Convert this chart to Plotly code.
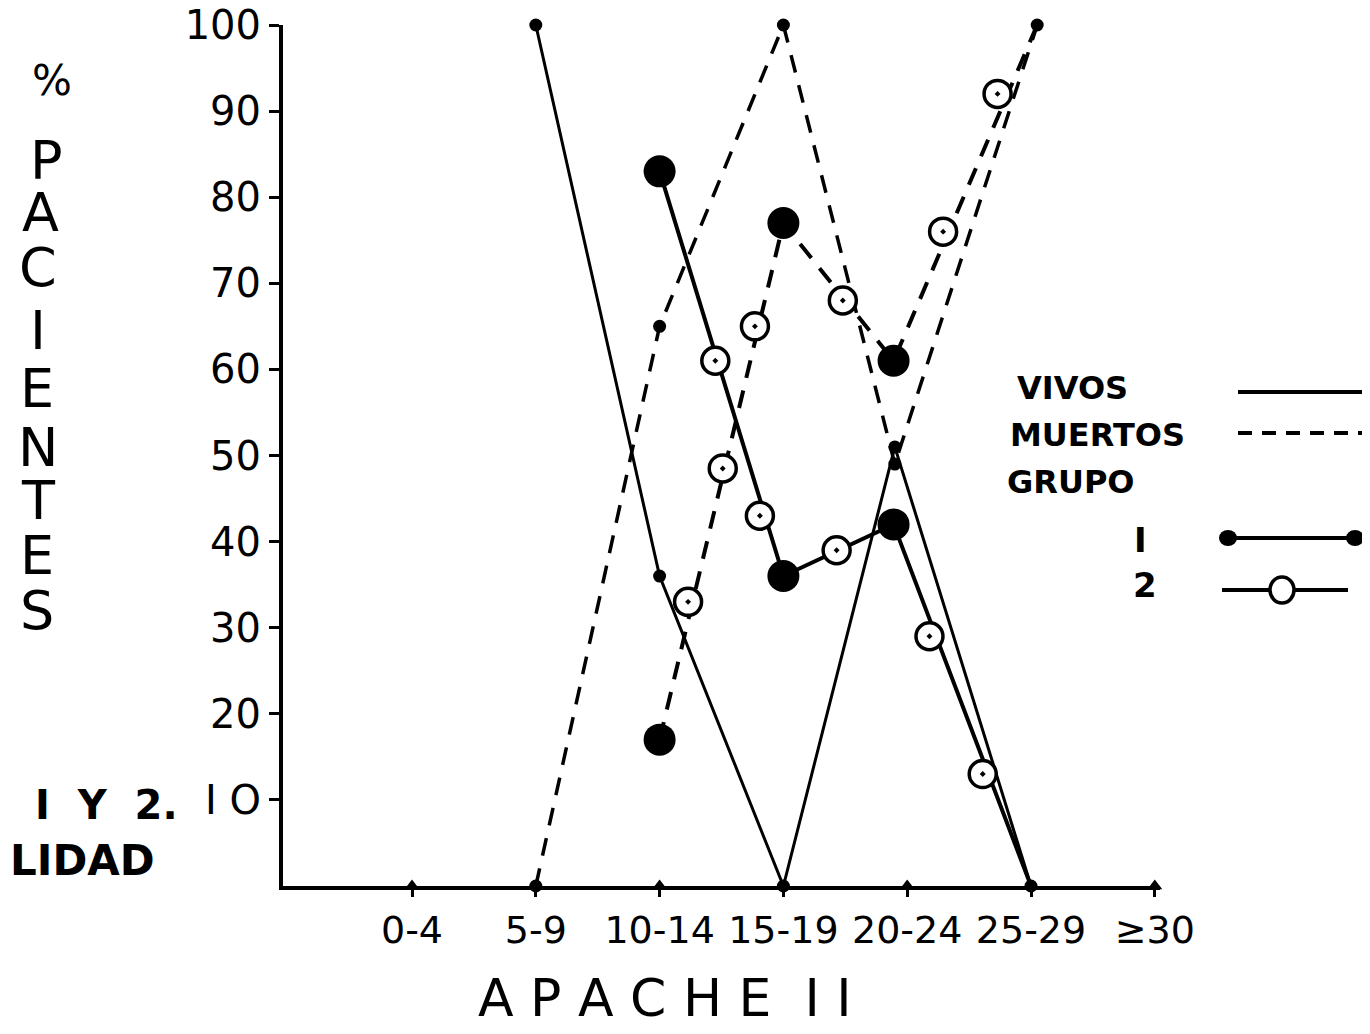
import plotly.graph_objects as go

# ---------------- data ----------------
categories = ["0-4", "5-9", "10-14", "15-19", "20-24", "25-29", "≥30"]
cat_pos = [0, 1, 2, 3, 4, 5, 6]

# Grupo 1 (small filled dots)
g1_vivos_x = [1, 2, 3, 3.9, 5]
g1_vivos_y = [100, 36, 0, 51, 0]
g1_muertos_x = [1, 2, 3, 3.9, 5.05]
g1_muertos_y = [0, 65, 100, 49, 100]

# Grupo 2 (large dots at vertices, open circles along the line)
g2_vivos_x = [2, 3, 3.89, 5]
g2_vivos_y = [83, 36, 42, 0]
g2_muertos_x = [2, 3, 3.89, 5.05]
g2_muertos_y = [17, 77, 61, 100]

g2_vivos_open_x = [2.45, 2.81, 3.43, 4.18, 4.61]
g2_vivos_open_y = [61, 43, 39, 29, 13]
g2_muertos_open_x = [2.23, 2.51, 2.77, 3.48, 4.29, 4.73]
g2_muertos_open_y = [33, 48.5, 65, 68, 76, 92]

axis_marks = [0, 0, 0, 0, 0, 0, 0]

y_ticks = [10, 20, 30, 40, 50, 60, 70, 80, 90, 100]
y_ticklabels = ["I O", "20", "30", "40", "50", "60", "70", "80", "90", "100"]

ylabel_letters = ["%", "P", "A", "C", "I", "E", "N", "T", "E", "S"]

# ---------------- geometry helpers ----------------
# page body has an 8px margin; work in reference-pixel coordinates
OFF = 8
W, H = 1370 - OFF, 1034 - OFF
L, R, T, B = 283, 1160, 25, 886   # plot area in reference pixels


def px2x(px):
    return (px - L) / (R - L)


def py2y(py):
    return (B - py) / (B - T)


FONT = "DejaVu Sans"
BLACK = "#000000"
dash_pat = "18px,13px"

fig = go.Figure()

# baseline bumps on x axis
fig.add_trace(go.Scatter(x=cat_pos, y=axis_marks, mode="markers",
                         marker=dict(symbol="triangle-up", size=13, color=BLACK),
                         cliponaxis=False, showlegend=False, hoverinfo="skip"))

# grupo 1 lines
fig.add_trace(go.Scatter(x=g1_vivos_x, y=g1_vivos_y, mode="lines+markers",
                         line=dict(color=BLACK, width=3),
                         marker=dict(size=13, color=BLACK),
                         cliponaxis=False, showlegend=False))
fig.add_trace(go.Scatter(x=g1_muertos_x, y=g1_muertos_y, mode="lines+markers",
                         line=dict(color=BLACK, width=3.5, dash=dash_pat),
                         marker=dict(size=13, color=BLACK),
                         cliponaxis=False, showlegend=False))

# grupo 2 lines
fig.add_trace(go.Scatter(x=g2_vivos_x, y=g2_vivos_y, mode="lines",
                         line=dict(color=BLACK, width=4),
                         cliponaxis=False, showlegend=False))
fig.add_trace(go.Scatter(x=g2_muertos_x, y=g2_muertos_y, mode="lines",
                         line=dict(color=BLACK, width=4, dash=dash_pat),
                         cliponaxis=False, showlegend=False))
# big dots at vertices (final points have no big dot)
fig.add_trace(go.Scatter(x=g2_vivos_x[:3] + g2_muertos_x[:3],
                         y=g2_vivos_y[:3] + g2_muertos_y[:3], mode="markers",
                         marker=dict(size=32, color=BLACK),
                         cliponaxis=False, showlegend=False))
# open circles with dot
ox = g2_vivos_open_x + g2_muertos_open_x
oy = g2_vivos_open_y + g2_muertos_open_y
fig.add_trace(go.Scatter(x=ox, y=oy, mode="markers",
                         marker=dict(size=27, color="white"),
                         cliponaxis=False, showlegend=False, hoverinfo="skip"))
fig.add_trace(go.Scatter(x=ox, y=oy, mode="markers",
                         marker=dict(symbol="circle-open-dot", size=27, color=BLACK,
                                     line=dict(width=3.5, color=BLACK)),
                         cliponaxis=False, showlegend=False))

# ---------------- layout ----------------
fig.update_layout(
    template="none",
    width=W, height=H,
    margin=dict(l=L - OFF, r=1370 - R, t=T - OFF, b=1034 - B, pad=0, autoexpand=False),
    paper_bgcolor="white", plot_bgcolor="white",
    showlegend=False,
    font=dict(family=FONT, color=BLACK),
    xaxis=dict(range=[-1.042, 6.042], tickmode="array",
               tickvals=cat_pos, ticktext=categories, automargin=False,
               ticklabeloverflow="allow",
               showline=True, linecolor=BLACK, linewidth=4,
               ticks="outside", ticklen=7, tickwidth=3, tickcolor=BLACK,
               tickfont=dict(size=38, family=FONT, color=BLACK),
               showgrid=False, zeroline=False),
    yaxis=dict(range=[0, 100], tickmode="array", tickvals=y_ticks,
               ticktext=y_ticklabels, automargin=False,
               ticklabeloverflow="allow",
               showline=True, linecolor=BLACK, linewidth=4,
               ticks="outside", ticklen=10, tickwidth=3, tickcolor=BLACK,
               tickfont=dict(size=40, family=FONT, color=BLACK),
               showgrid=False, zeroline=False),
)

annotations = []
# vertical y label, letter by letter
letter_y = [80, 160, 213, 267, 330, 388, 447, 500, 555, 610]
letter_x = [52, 47, 40, 38, 38, 37, 38, 38, 37, 37]
letter_size = [42, 54, 54, 54, 54, 54, 54, 54, 54, 54]
for ch, lx, ly, sz in zip(ylabel_letters, letter_x, letter_y, letter_size):
    annotations.append(dict(text=ch, xref="paper", yref="paper",
                            x=px2x(lx), y=py2y(ly), xanchor="center", yanchor="middle",
                            showarrow=False, font=dict(size=sz, family=FONT, color=BLACK)))

# fragments at left
annotations.append(dict(text="<b>I  Y  2.</b>", xref="paper", yref="paper",
                        x=px2x(180), y=py2y(805), xanchor="right", yanchor="middle",
                        showarrow=False, font=dict(size=40, family=FONT, color=BLACK)))
annotations.append(dict(text="<b>LIDAD</b>", xref="paper", yref="paper",
                        x=px2x(OFF), y=py2y(860), xanchor="left", yanchor="middle",
                        showarrow=False, font=dict(size=42, family=FONT, color=BLACK)))

# x axis title
annotations.append(dict(text="A P A C H E  I I", xref="paper", yref="paper",
                        x=px2x(665), y=py2y(1030), xanchor="center", yanchor="bottom",
                        showarrow=False, font=dict(size=52, family=FONT, color=BLACK)))

# legend texts
leg_texts = [("VIVOS", 1015, 388), ("MUERTOS", 1008, 435), ("GRUPO", 1005, 482)]
for t, lx, ly in leg_texts:
    annotations.append(dict(text="<b>" + t + "</b>", xref="paper", yref="paper",
                            x=px2x(lx), y=py2y(ly), xanchor="left", yanchor="middle",
                            showarrow=False, font=dict(size=32, family=FONT, color=BLACK)))
annotations.append(dict(text="<b>I</b>", xref="paper", yref="paper",
                        x=px2x(1140), y=py2y(540), xanchor="center", yanchor="middle",
                        showarrow=False, font=dict(size=34, family=FONT, color=BLACK)))
annotations.append(dict(text="<b>2</b>", xref="paper", yref="paper",
                        x=px2x(1145), y=py2y(585), xanchor="center", yanchor="middle",
                        showarrow=False, font=dict(size=34, family=FONT, color=BLACK)))

fig.update_layout(annotations=annotations)

shapes = []
# legend line samples
shapes.append(dict(type="line", xref="paper", yref="paper",
                   x0=px2x(1238), x1=px2x(1362), y0=py2y(392), y1=py2y(392),
                   line=dict(color=BLACK, width=4)))
shapes.append(dict(type="line", xref="paper", yref="paper",
                   x0=px2x(1238), x1=px2x(1362), y0=py2y(433), y1=py2y(433),
                   line=dict(color=BLACK, width=4, dash="14px,10px")))
shapes.append(dict(type="line", xref="paper", yref="paper",
                   x0=px2x(1228), x1=px2x(1355), y0=py2y(538), y1=py2y(538),
                   line=dict(color=BLACK, width=4)))
for cx in (1228, 1355):
    shapes.append(dict(type="circle", xref="paper", yref="paper",
                       x0=px2x(cx - 9), x1=px2x(cx + 9), y0=py2y(538 + 8), y1=py2y(538 - 8),
                       fillcolor=BLACK, line=dict(color=BLACK, width=0)))
shapes.append(dict(type="line", xref="paper", yref="paper",
                   x0=px2x(1222), x1=px2x(1348), y0=py2y(590), y1=py2y(590),
                   line=dict(color=BLACK, width=4)))
shapes.append(dict(type="circle", xref="paper", yref="paper",
                   x0=px2x(1282 - 12), x1=px2x(1282 + 12), y0=py2y(590 + 13), y1=py2y(590 - 13),
                   fillcolor="white", line=dict(color=BLACK, width=3.5)))
fig.update_layout(shapes=shapes)

fig.write_html("out.html")
